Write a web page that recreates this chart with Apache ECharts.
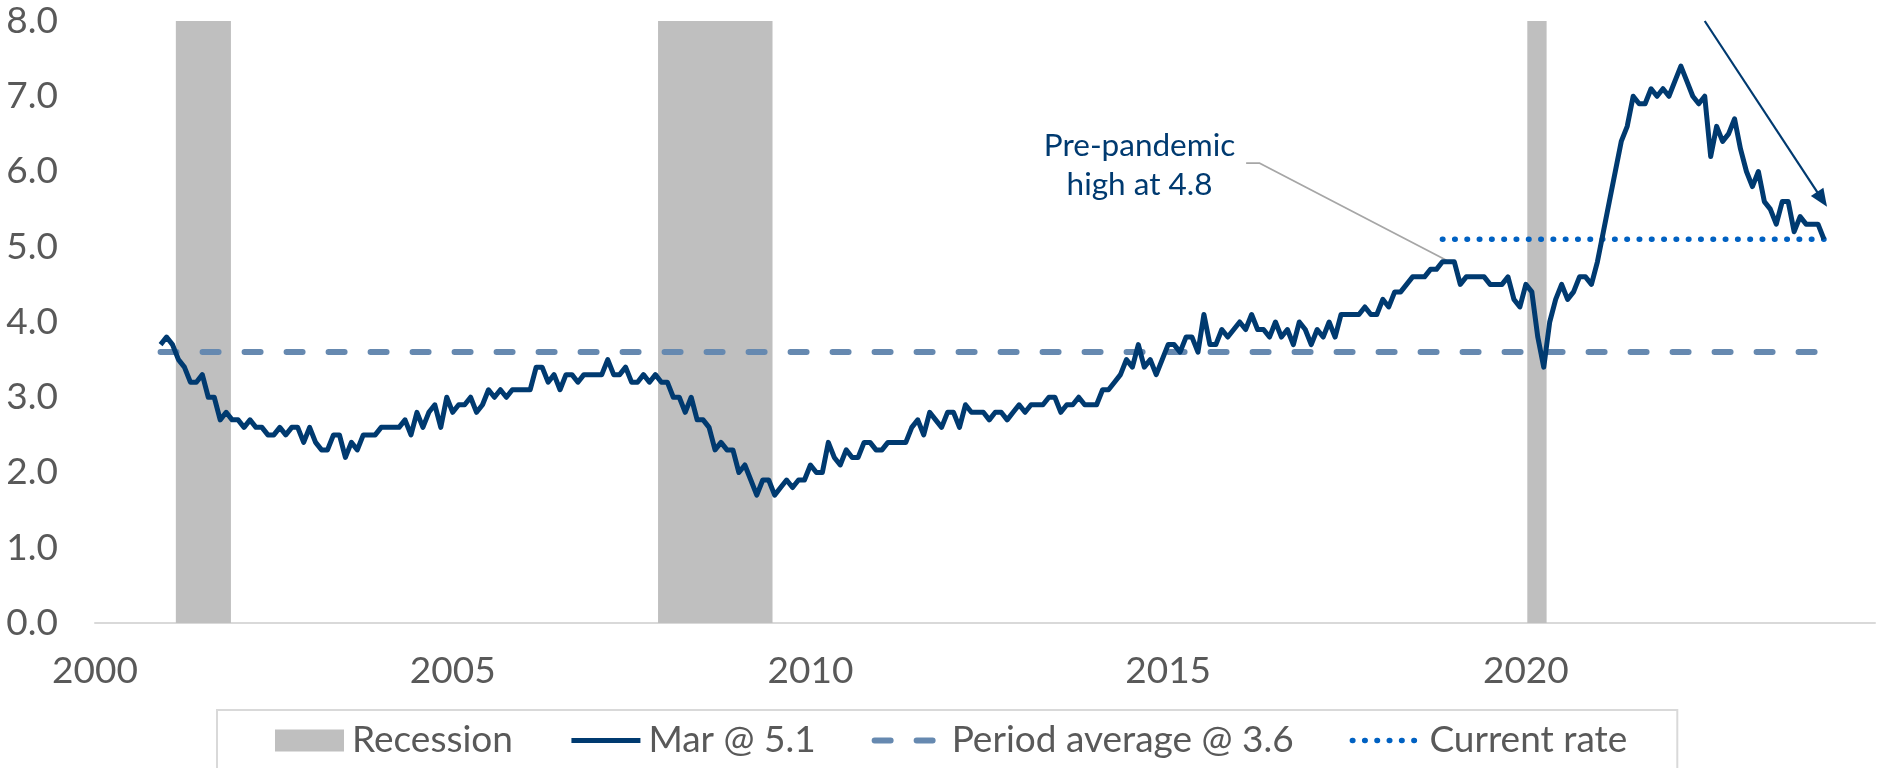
<!DOCTYPE html>
<html>
<head>
<meta charset="utf-8">
<title>Job openings rate</title>
<script src="https://cdn.jsdelivr.net/npm/echarts@6.0.0/dist/echarts.min.js"></script>
<style>
  html, body { margin: 0; padding: 0; background: #fff; }
  #chart { width: 1879px; height: 768px; }
</style>
</head>
<body>
<div id="chart"></div>
<script>
// monthly rate, first value is Dec 2000, last is Mar 2024
const firstMonth = [2000, 12]
const rate = [
  3.7,
  3.8, 3.7, 3.5, 3.4, 3.2, 3.2, 3.3, 3.0, 3.0, 2.7, 2.8, 2.7, // 2001
  2.7, 2.6, 2.7, 2.6, 2.6, 2.5, 2.5, 2.6, 2.5, 2.6, 2.6, 2.4, // 2002
  2.6, 2.4, 2.3, 2.3, 2.5, 2.5, 2.2, 2.4, 2.3, 2.5, 2.5, 2.5, // 2003
  2.6, 2.6, 2.6, 2.6, 2.7, 2.5, 2.8, 2.6, 2.8, 2.9, 2.6, 3.0, // 2004
  2.8, 2.9, 2.9, 3.0, 2.8, 2.9, 3.1, 3.0, 3.1, 3.0, 3.1, 3.1, // 2005
  3.1, 3.1, 3.4, 3.4, 3.2, 3.3, 3.1, 3.3, 3.3, 3.2, 3.3, 3.3, // 2006
  3.3, 3.3, 3.5, 3.3, 3.3, 3.4, 3.2, 3.2, 3.3, 3.2, 3.3, 3.2, // 2007
  3.2, 3.0, 3.0, 2.8, 3.0, 2.7, 2.7, 2.6, 2.3, 2.4, 2.3, 2.3, // 2008
  2.0, 2.1, 1.9, 1.7, 1.9, 1.9, 1.7, 1.8, 1.9, 1.8, 1.9, 1.9, // 2009
  2.1, 2.0, 2.0, 2.4, 2.2, 2.1, 2.3, 2.2, 2.2, 2.4, 2.4, 2.3, // 2010
  2.3, 2.4, 2.4, 2.4, 2.4, 2.6, 2.7, 2.5, 2.8, 2.7, 2.6, 2.8, // 2011
  2.8, 2.6, 2.9, 2.8, 2.8, 2.8, 2.7, 2.8, 2.8, 2.7, 2.8, 2.9, // 2012
  2.8, 2.9, 2.9, 2.9, 3.0, 3.0, 2.8, 2.9, 2.9, 3.0, 2.9, 2.9, // 2013
  2.9, 3.1, 3.1, 3.2, 3.3, 3.5, 3.4, 3.7, 3.4, 3.5, 3.3, 3.5, // 2014
  3.7, 3.7, 3.6, 3.8, 3.8, 3.6, 4.1, 3.7, 3.7, 3.9, 3.8, 3.9, // 2015
  4.0, 3.9, 4.1, 3.9, 3.9, 3.8, 4.0, 3.8, 3.9, 3.7, 4.0, 3.9, // 2016
  3.7, 3.9, 3.8, 4.0, 3.8, 4.1, 4.1, 4.1, 4.1, 4.2, 4.1, 4.1, // 2017
  4.3, 4.2, 4.4, 4.4, 4.5, 4.6, 4.6, 4.6, 4.7, 4.7, 4.8, 4.8, // 2018
  4.8, 4.5, 4.6, 4.6, 4.6, 4.6, 4.5, 4.5, 4.5, 4.6, 4.3, 4.2, // 2019
  4.5, 4.4, 3.8, 3.4, 4.0, 4.3, 4.5, 4.3, 4.4, 4.6, 4.6, 4.5, // 2020
  4.8, 5.2, 5.6, 6.0, 6.4, 6.6, 7.0, 6.9, 6.9, 7.1, 7.0, 7.1, // 2021
  7.0, 7.2, 7.4, 7.2, 7.0, 6.9, 7.0, 6.2, 6.6, 6.4, 6.5, 6.7, // 2022
  6.3, 6.0, 5.8, 6.0, 5.6, 5.5, 5.3, 5.6, 5.6, 5.2, 5.4, 5.3, // 2023
  5.3, 5.3, 5.1 // 2024
]

// recession bands, in years
const recessionStart = [2001.13, 2007.87, 2020.02]
const recessionEnd = [2001.90, 2009.47, 2020.29]

const periodAverage = 3.6
const currentRate = 5.1
const currentFrom = [2018, 11]

const xTicks = [2000, 2005, 2010, 2015, 2020]
const xMin = 2000
const xMax = 2024.88

// annotation
const noteText = 'Pre-pandemic\nhigh at 4.8'
const notePos = [2014.6, 6.08]
const leaderPath = [[2016.09, 6.11], [2016.28, 6.11], [2018.89, 4.82]]
const arrowFrom = [2022.5, 8.0]
const arrowTo = [2024.14, 5.63]

const toYear = (y, m) => y + (m - 1) / 12
const lineData = rate.map((v, i) => [toYear(firstMonth[0], firstMonth[1] + i), v])
const firstX = lineData[0][0]
const lastX = lineData[lineData.length - 1][0]

const font = 'Lato, "Open Sans", sans-serif'
const grey = '#595959'

const chart = echarts.init(document.getElementById('chart'))

chart.setOption({
  animation: false,
  textStyle: { fontFamily: font },
  grid: { left: 95, right: 4, top: 21, bottom: 145 },
  xAxis: {
    type: 'value',
    min: xMin,
    max: xMax,
    interval: 5,
    axisLine: { lineStyle: { color: '#d9d9d9', width: 2 } },
    axisTick: { show: false },
    splitLine: { show: false },
    axisLabel: {
      color: grey,
      fontSize: 37,
      margin: 30,
      formatter: (v) => (xTicks.includes(v) ? String(v) : '')
    }
  },
  yAxis: {
    type: 'value',
    min: 0,
    max: 8,
    interval: 1,
    axisLine: { show: false },
    axisTick: { show: false },
    splitLine: { show: false },
    axisLabel: {
      color: grey,
      fontSize: 37,
      margin: 37,
      formatter: (v) => v.toFixed(1)
    }
  },
  legend: {
    left: 217,
    top: 710,
    padding: [12, 50, 14, 58],
    itemGap: 56,
    itemWidth: 69,
    itemHeight: 22,
    borderColor: '#d9d9d9',
    borderWidth: 2,
    lineStyle: { width: 'inherit' },
    textStyle: { color: grey, fontSize: 37, fontFamily: font, padding: [0, 0, 0, 3] },
    data: [
      { name: 'Recession', icon: 'rect' },
      { name: 'Mar @ 5.1', itemStyle: { opacity: 0 } },
      { name: 'Period average @ 3.6', itemStyle: { opacity: 0 } },
      { name: 'Current rate', itemStyle: { opacity: 0 } }
    ]
  },
  series: [
    {
      name: 'Recession',
      type: 'line',
      data: [],
      color: '#bfbfbf',
      markArea: {
        silent: true,
        itemStyle: { color: '#bfbfbf', opacity: 1 },
        data: recessionStart.map((s, i) => [{ xAxis: s }, { xAxis: recessionEnd[i] }])
      }
    },
    {
      name: 'Period average @ 3.6',
      type: 'line',
      symbol: 'none',
      color: '#6689b0',
      lineStyle: { color: '#6689b0', width: 6, type: [16, 26], cap: 'round' },
      data: [[firstX, periodAverage], [lastX, periodAverage]],
      z: 3
    },
    {
      name: 'Current rate',
      type: 'line',
      symbol: 'none',
      color: '#0061c2',
      lineStyle: { color: '#0061c2', width: 5.5, type: [0.5, 11.8], cap: 'round' },
      data: [[toYear(currentFrom[0], currentFrom[1]), currentRate], [lastX, currentRate]],
      z: 3
    },
    {
      name: 'annotation',
      type: 'line',
      symbol: 'none',
      clip: false,
      silent: true,
      lineStyle: { color: '#a6a6a6', width: 1.8 },
      data: leaderPath,
      z: 4,
      markPoint: {
        symbol: 'rect',
        symbolSize: 1,
        itemStyle: { color: 'rgba(0,0,0,0)' },
        label: {
          show: true,
          position: 'inside',
          formatter: noteText,
          color: '#003a70',
          fontSize: 31.5,
          lineHeight: 39,
          fontFamily: font,
          align: 'center'
        },
        data: [{ coord: notePos }]
      },
      markLine: {
        silent: true,
        symbol: ['none', 'triangle'],
        symbolSize: [15, 18],
        lineStyle: { color: '#003a70', width: 2.2, type: 'solid' },
        itemStyle: { color: '#003a70' },
        label: { show: false },
        data: [[{ coord: arrowFrom }, { coord: arrowTo }]]
      }
    },
    {
      name: 'Mar @ 5.1',
      type: 'line',
      symbol: 'none',
      color: '#003a70',
      lineStyle: { color: '#003a70', width: 5, join: 'round' },
      data: lineData,
      z: 5
    }
  ]
})
</script>
</body>
</html>
